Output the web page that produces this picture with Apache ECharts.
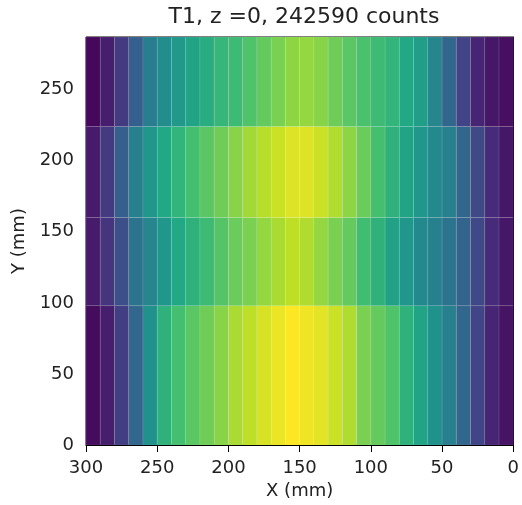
<!DOCTYPE html>
<html>
<head>
<meta charset="utf-8">
<script src="https://cdn.jsdelivr.net/npm/echarts@6/dist/echarts.min.js"></script>
<style>
html,body{margin:0;padding:0;background:#fff;}
#chart{width:522px;height:505px;}
</style>
</head>
<body>
<div id="chart"></div>
<script>
// Column bin edges (mm), left-to-right as displayed (x axis inverted)
const xEdges = [300,290,280,270,260,250,240,230,220,210,200,190,180,170,160,150,140,130,120,110,100,90,80,70,60,50,40,30,20,10,0];
// Row bin edges (mm), bottom to top
const yEdges = [0, 98, 160, 224, 287];
// Relative intensity per column (left-to-right), one array per row (bottom to top)
const row1 = [0.03,0.08,0.18,0.33,0.50,0.64,0.70,0.74,0.78,0.82,0.87,0.90,0.94,0.97,1.00,0.98,0.96,0.92,0.88,0.80,0.76,0.72,0.64,0.58,0.50,0.43,0.33,0.20,0.10,0.05];
const row2 = [0.07,0.15,0.24,0.38,0.45,0.52,0.60,0.64,0.68,0.73,0.77,0.80,0.84,0.87,0.90,0.88,0.84,0.80,0.76,0.69,0.64,0.57,0.52,0.47,0.43,0.38,0.32,0.22,0.12,0.06];
const row3 = [0.07,0.17,0.30,0.43,0.52,0.60,0.65,0.70,0.74,0.78,0.82,0.86,0.89,0.92,0.95,0.95,0.92,0.88,0.83,0.77,0.70,0.64,0.58,0.52,0.47,0.43,0.33,0.22,0.12,0.06];
const row4 = [0.02,0.08,0.17,0.30,0.42,0.48,0.53,0.58,0.62,0.66,0.68,0.72,0.76,0.80,0.83,0.84,0.82,0.78,0.74,0.71,0.68,0.65,0.60,0.55,0.45,0.33,0.20,0.10,0.06,0.04];
const rows = [row1, row2, row3, row4];
const xTicks = [0,50,100,150,200,250,300];
const yTicks = [0,50,100,150,200,250];
const titleText = 'T1, z =0, 242590 counts';

const viridis = ['#440154','#482475','#414487','#355f8d','#2a788e','#21918c','#22a884','#44bf70','#7ad151','#bddf26','#fde725'];

const data = [];
rows.forEach((r, j) => {
  r.forEach((v, i) => {
    data.push([xEdges[i], xEdges[i+1], yEdges[j], yEdges[j+1], v]);
  });
});

function renderItem(params, api) {
  const p0 = api.coord([api.value(0), api.value(2)]);
  const p1 = api.coord([api.value(1), api.value(3)]);
  return {
    type: 'rect',
    shape: {
      x: Math.min(p0[0], p1[0]),
      y: Math.min(p0[1], p1[1]),
      width: Math.abs(p1[0] - p0[0]),
      height: Math.abs(p1[1] - p0[1])
    },
    style: { fill: api.visual('color'), stroke: 'rgba(255,255,255,0.15)', lineWidth: 0.6 }
  };
}

const font = 'DejaVu Sans';
const txt = '#222';
const chart = echarts.init(document.getElementById('chart'), null, {renderer: 'canvas'});
chart.setOption({
  animation: false,
  backgroundColor: '#fff',
  title: {
    text: titleText,
    left: 299,
    textAlign: 'center',
    top: 1,
    textStyle: { fontFamily: font, fontSize: 22, fontWeight: 'normal', color: txt }
  },
  grid: { left: 86, right: 6, top: 37, bottom: 58, show: true, borderColor: '#000', borderWidth: 1, backgroundColor: 'transparent' },
  visualMap: { show: false, min: 0, max: 1, dimension: 4, inRange: { color: viridis } },
  xAxis: {
    type: 'value', min: 0, max: 300, inverse: true, interval: 50,
    name: 'X (mm)', nameLocation: 'middle', nameGap: 37,
    nameTextStyle: { fontFamily: font, fontSize: 18, color: txt },
    axisLine: { show: true, lineStyle: { color: '#000', width: 1 } },
    axisTick: { show: true, length: 7, lineStyle: { color: '#000' }, customValues: xTicks },
    axisLabel: { fontFamily: font, fontSize: 18, color: txt, margin: 14, customValues: xTicks },
    splitLine: { show: false }
  },
  yAxis: {
    type: 'value', min: 0, max: 287, interval: 50,
    name: 'Y (mm)', nameLocation: 'middle', nameGap: 58, nameRotate: 90,
    nameTextStyle: { fontFamily: font, fontSize: 18, color: txt },
    axisLine: { show: true, lineStyle: { color: '#000', width: 1 } },
    axisTick: { show: true, length: 7, lineStyle: { color: '#000' }, customValues: yTicks },
    axisLabel: { fontFamily: font, fontSize: 18, color: txt, margin: 12, customValues: yTicks },
    splitLine: { show: false }
  },
  series: [{
    type: 'custom',
    renderItem: renderItem,
    encode: { x: [0, 1], y: [2, 3] },
    clip: true,
    data: data
  }]
});
</script>
</body>
</html>
